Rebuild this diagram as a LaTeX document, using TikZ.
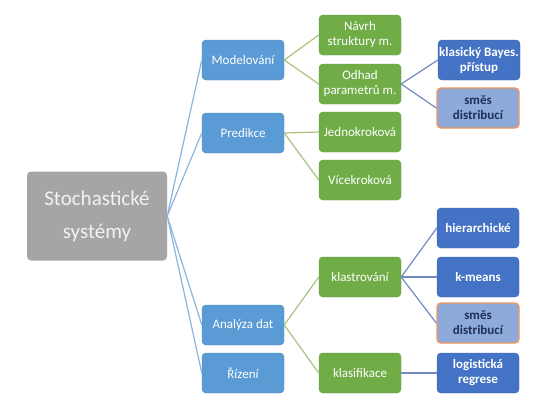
\documentclass[tikz,border=0pt]{standalone}
\usepackage{fontspec}
\setmainfont{Carlito}
\definecolor{rootgray}{HTML}{A5A5A5}
\definecolor{roottext}{HTML}{F2F2F2}
\definecolor{midblue}{HTML}{5B9BD5}
\definecolor{leafgreen}{HTML}{70AD47}
\definecolor{deepblue}{HTML}{4472C4}
\definecolor{paleblue}{HTML}{8EAADB}
\definecolor{edgeorange}{HTML}{ED7D31}
\definecolor{navytext}{HTML}{1F2F55}
\definecolor{linkblue}{HTML}{8CB4DE}
\definecolor{linkgreen}{HTML}{A9C27F}
\definecolor{linkdeep}{HTML}{7289C2}
\tikzset{
  box/.style={rounded corners=4pt, minimum width=82pt, minimum height=40pt,
    inner sep=1pt, align=center, text=white,
    font=\fontsize{13}{15}\selectfont},
  rootbox/.style={box, fill=rootgray, minimum width=140pt, minimum height=89pt,
    text=roottext, font=\fontsize{21}{33}\selectfont},
  bluebox/.style={box, fill=midblue, draw=midblue!85!black, line width=0.4pt},
  greenbox/.style={box, fill=leafgreen, draw=leafgreen!85!black, line width=0.4pt},
  deepbox/.style={box, fill=deepblue, draw=deepblue!85!black, line width=0.4pt,
    font=\fontsize{13}{15}\selectfont\bfseries},
  palebox/.style={box, fill=paleblue, draw=edgeorange!80!white, line width=1.4pt,
    text=navytext, font=\fontsize{13}{15}\selectfont\bfseries},
  tolevel1/.style={draw=linkblue, line width=1.2pt},
  tolevel2/.style={draw=linkgreen, line width=1.2pt},
  tolevel3/.style={draw=linkdeep, line width=1.2pt},
}
\begin{document}
\begin{tikzpicture}[x=1pt, y=-1pt]
\useasboundingbox (0,0) rectangle (541,405);

% root
\node[rootbox] (root) at (97,216) {Stochastické\\systémy};

% first level
\node[bluebox] (mod)  at (243,60)  {Modelování};
\node[bluebox] (pred) at (243,133) {Predikce};
\node[bluebox] (anal) at (243,325) {Analýza dat};
\node[bluebox] (riz)  at (243,373) {Řízení};

% second level
\node[greenbox] (navrh)  at (360,35)  {Návrh\\struktury m.};
\node[greenbox] (odhad)  at (360,84)  {Odhad\\parametrů m.};
\node[greenbox] (jedno)  at (360,132) {Jednokroková};
\node[greenbox] (vice)   at (360,180) {Vícekroková};
\node[greenbox] (klast)  at (360,277) {klastrování};
\node[greenbox] (klasif) at (360,373) {klasifikace};

% third level
\node[deepbox] (bayes)  at (479,60)  {klasický Bayes.\\přístup};
\node[palebox] (smesA)  at (478,108) {směs\\distribucí};
\node[deepbox] (hier)   at (478,228) {hierarchické};
\node[deepbox] (kmeans) at (478,277) {k-means};
\node[palebox] (smesB)  at (478,323) {směs\\distribucí};
\node[deepbox] (logit)  at (478,373) {logistická\\regrese};

% connectors
\foreach \c in {mod,pred,anal,riz}
  \draw[tolevel1] (root.east) -- (\c.west);
\draw[tolevel2] (mod.east) -- (navrh.west);
\draw[tolevel2] (mod.east) -- (odhad.west);
\draw[tolevel2] (pred.east) -- (jedno.west);
\draw[tolevel2] (pred.east) -- (vice.west);
\draw[tolevel2] (anal.east) -- (klast.west);
\draw[tolevel2] (anal.east) -- (klasif.west);
\draw[tolevel3] (odhad.east) -- (bayes.west);
\draw[tolevel3] (odhad.east) -- (smesA.west);
\draw[tolevel3] (klast.east) -- (hier.west);
\draw[tolevel3] (klast.east) -- (kmeans.west);
\draw[tolevel3] (klast.east) -- (smesB.west);
\draw[tolevel3] (klasif.east) -- (logit.west);
\end{tikzpicture}
\end{document}
